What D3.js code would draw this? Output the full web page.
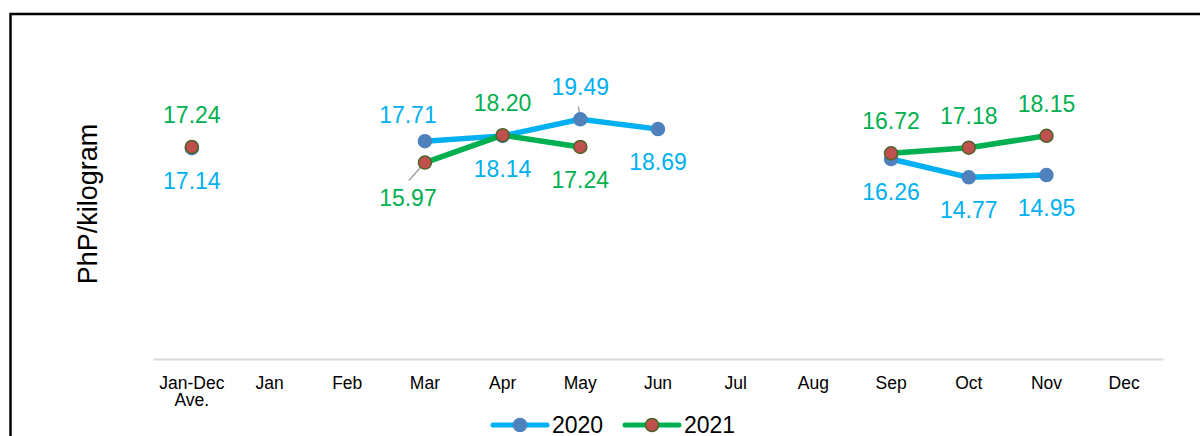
<!DOCTYPE html>
<html>
<head>
<meta charset="utf-8">
<script src="https://cdn.jsdelivr.net/npm/d3@7"></script>
<style>
  body { margin: 0; background: #fff; }
  svg { display: block; font-family: "Liberation Sans", Arial, sans-serif; }
</style>
</head>
<body>
<svg id="chart" width="1200" height="436"></svg>
<script>
// chart data
let categories = ["Jan-Dec Ave.", "Jan", "Feb", "Mar", "Apr", "May", "Jun", "Jul", "Aug", "Sep", "Oct", "Nov", "Dec"];
let price2020 = [17.14, null, null, 17.71, 18.14, 19.49, 18.69, null, null, 16.26, 14.77, 14.95, null];
let price2021 = [17.24, null, null, 15.97, 18.20, 17.24, null, null, null, 16.72, 17.18, 18.15, null];
let seriesNames = ["2020", "2021"];
// where each data label sits, relative to its point
let place2020 = ["below", null, null, "aboveLeft", "below", "above", "below", null, null, "below", "below", "below", null];
let place2021 = ["above", null, null, "belowLeft", "above", "below", null, null, null, "above", "above", "above", null];

let margins = { top: 51.5, left: 153, right: 37, bottom: 77 };
let width = 1200 - margins.left - margins.right;
let height = 436 - margins.top - margins.bottom;

let xScale = d3.scaleBand().domain(categories).range([0, width]);
let yScale = d3.scaleLinear().domain([0, 25]).range([height, 0]);

let svg = d3.select("#chart");

// outer frame (runs off the right/bottom like the original)
svg.append("rect")
  .attr("x", 10.5).attr("y", 14)
  .attr("width", 1210).attr("height", 460)
  .style("fill", "none")
  .style("stroke", "#000")
  .style("stroke-width", 2.5);

let graph = svg.append("g")
  .attr("transform", "translate(" + margins.left + "," + margins.top + ")");

// x axis
let xAxis = d3.axisBottom(xScale).tickSize(0).tickPadding(0);
let xg = graph.append("g")
  .attr("transform", "translate(0," + height + ")")
  .call(xAxis);
xg.select(".domain").style("stroke", "#d9d9d9").style("stroke-width", 2);
xg.selectAll(".tick text").remove();
xg.selectAll(".tick").each(function(d) {
  let words = d.split(" ");
  let t = d3.select(this).append("text")
    .style("font-size", "17.5px")
    .style("fill", "#000")
    .attr("text-anchor", "middle")
    .attr("y", 29.5);
  words.forEach(function(w, i) {
    t.append("tspan").attr("x", 0).attr("dy", i === 0 ? 0 : 17.5).text(w);
  });
});

// y axis title
svg.append("text")
  .attr("transform", "translate(97,204) rotate(-90)")
  .attr("text-anchor", "middle")
  .style("font-size", "27px")
  .style("fill", "#000")
  .text("PhP/kilogram");

let series = [
  { name: seriesNames[0], values: price2020, place: place2020, line: "#00B0F0", fill: "#4F81BD", stroke: "#4F81BD", label: "#00B0F0" },
  { name: seriesNames[1], values: price2021, place: place2021, line: "#00B050", fill: "#C0504D", stroke: "#4F6228", label: "#00B050" }
];

let line = d3.line()
  .defined(function(d) { return d.v != null; })
  .x(function(d) { return xScale(d.c) + xScale.bandwidth() / 2; })
  .y(function(d) { return yScale(d.v); });

let offsets = {
  above: [0, -32], below: [0, 33],
  aboveLeft: [-17, -26], belowLeft: [-17, 35]
};

series.forEach(function(s) {
  let pts = categories.map(function(c, i) { return { c: c, v: s.values[i], p: s.place[i] }; });
  graph.append("path")
    .attr("d", line(pts))
    .style("fill", "none")
    .style("stroke", s.line)
    .style("stroke-width", 5.5)
    .style("stroke-linejoin", "round");
  let valid = pts.filter(function(d) { return d.v != null; });

  // leader lines for the labels that were dragged away
  valid.forEach(function(d) {
    let cx = xScale(d.c) + xScale.bandwidth() / 2, cy = yScale(d.v);
    if (d.p === "belowLeft") {
      graph.append("line")
        .attr("x1", cx - 2).attr("y1", cy + 2).attr("x2", cx - 16).attr("y2", cy + 18)
        .style("stroke", "#A6A6A6").style("stroke-width", 1.5);
    }
    if (s.name === "2020" && d.c === "May") {
      graph.append("line")
        .attr("x1", cx - 2).attr("y1", cy - 13).attr("x2", cx).attr("y2", cy - 2)
        .style("stroke", "#A6A6A6").style("stroke-width", 1.5);
    }
  });

  graph.selectAll(null).data(valid).enter().append("circle")
    .attr("cx", function(d) { return xScale(d.c) + xScale.bandwidth() / 2; })
    .attr("cy", function(d) { return yScale(d.v); })
    .attr("r", 6.5)
    .style("fill", s.fill)
    .style("stroke", s.stroke)
    .style("stroke-width", 1.5);

  graph.selectAll(null).data(valid).enter().append("text")
    .attr("x", function(d) { return xScale(d.c) + xScale.bandwidth() / 2 + offsets[d.p][0]; })
    .attr("y", function(d) { return yScale(d.v) + offsets[d.p][1]; })
    .attr("text-anchor", "middle")
    .attr("dominant-baseline", "central")
    .style("font-size", "23px")
    .style("fill", s.label)
    .text(function(d) { return d.v.toFixed(2); });
});

// legend
let legend = svg.append("g").attr("transform", "translate(492,425)");
let legendX = [0, 132];
series.forEach(function(s, i) {
  let g = legend.append("g").attr("transform", "translate(" + legendX[i] + ",0)");
  g.append("line").attr("x1", 1).attr("x2", 55)
    .style("stroke", s.line).style("stroke-width", 5).style("stroke-linecap", "round");
  g.append("circle").attr("cx", 28).attr("r", 6.5)
    .style("fill", s.fill).style("stroke", s.stroke).style("stroke-width", 1.5);
  g.append("text").attr("x", 60).attr("y", 7.5)
    .style("font-size", "23px").style("fill", "#000")
    .text(s.name);
});
</script>
</body>
</html>
